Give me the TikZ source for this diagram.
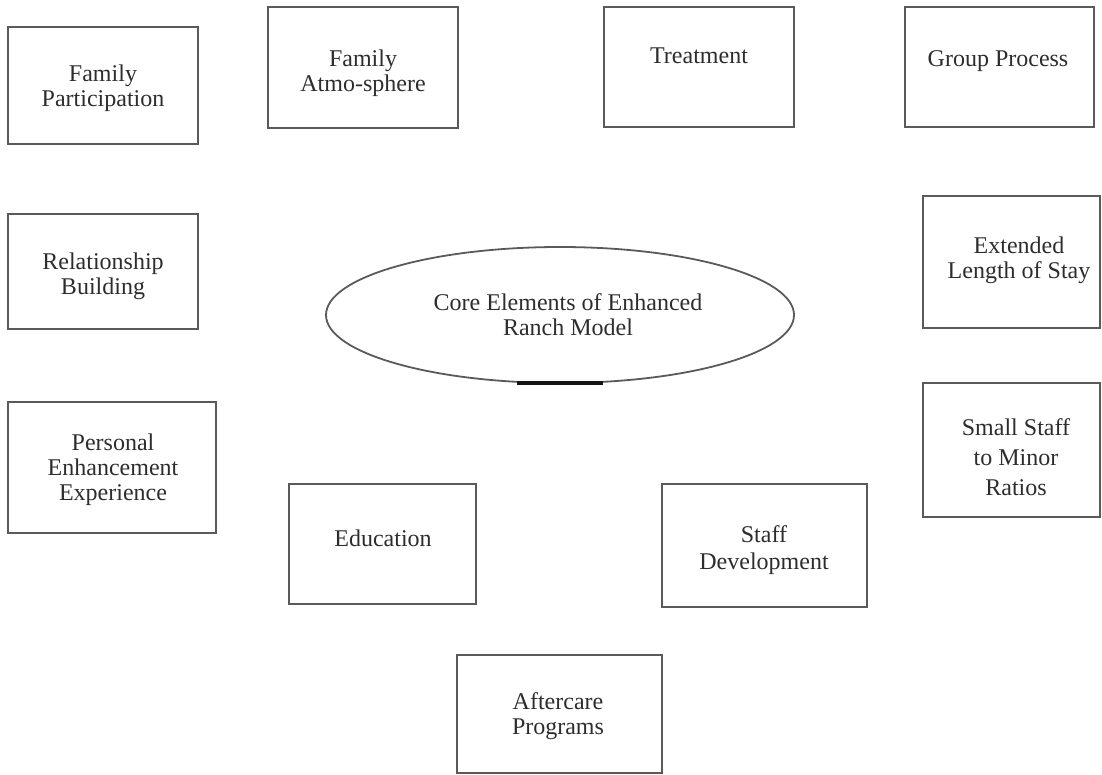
\documentclass[tikz,border=0pt]{standalone}
\usepackage{fontspec}
\setmainfont{Liberation Serif}
\definecolor{BoxClr}{RGB}{90,90,90}
\definecolor{TxtClr}{RGB}{45,45,45}
\definecolor{CoreClr}{RGB}{20,20,20}

\begin{document}
\begin{tikzpicture}[x=0.5pt,y=-0.5pt,
  box/.style={draw=BoxClr,line width=0.9pt},
  lbl/.style={text=TxtClr,align=center,inner sep=0pt,
    font=\fontsize{12}{12.5}\selectfont}]
\useasboundingbox (0,0) rectangle (1102,775);

% top row
\draw[box] (8,27) rectangle (198,144);
\node[lbl] (famPart) at (103,88) {Family\\Participation};
\draw[box] (268,7) rectangle (458,128);
\node[lbl] (famAtmo) at (363,73) {Family\\Atmo-sphere};
\draw[box] (604,7) rectangle (794,127);
\node[lbl] (treat) at (699,56) {Treatment};
\draw[box] (905,7) rectangle (1094,127);
\node[lbl] (grpProc) at (998,61) {Group Process};

% middle
\draw[box] (8,214) rectangle (198,329);
\node[lbl] (relBuild) at (103,276) {Relationship\\Building};
\draw[box] (923,196) rectangle (1100,328);
\node[lbl] (extStay) at (1019,260) {Extended\\Length of Stay};

\draw[box] (560,315) ellipse [x radius=234, y radius=68];
\draw[CoreClr,line width=1.6pt] (517,383) -- (603,383);
\node[lbl] (core) at (568,315) {Core Elements of Enhanced\\Ranch Model};

\draw[box] (8,402) rectangle (216,533);
\node[lbl] (persEnh) at (113,470) {Personal\\Enhancement\\Experience};
\draw[box] (923,383) rectangle (1100,517);
\node[lbl,font=\fontsize{12}{15}\selectfont] (smallStaff) at (1016,457) {Small Staff\\to Minor\\Ratios};

% bottom
\draw[box] (289,484) rectangle (476,604);
\node[lbl] (edu) at (383,538) {Education};
\draw[box] (662,484) rectangle (867,607);
\node[lbl,font=\fontsize{12}{13.5}\selectfont] (staffDev) at (764,550) {Staff\\Development};
\draw[box] (457,655) rectangle (662,773);
\node[lbl] (afterCare) at (558,716) {Aftercare\\Programs};

\end{tikzpicture}
\end{document}
